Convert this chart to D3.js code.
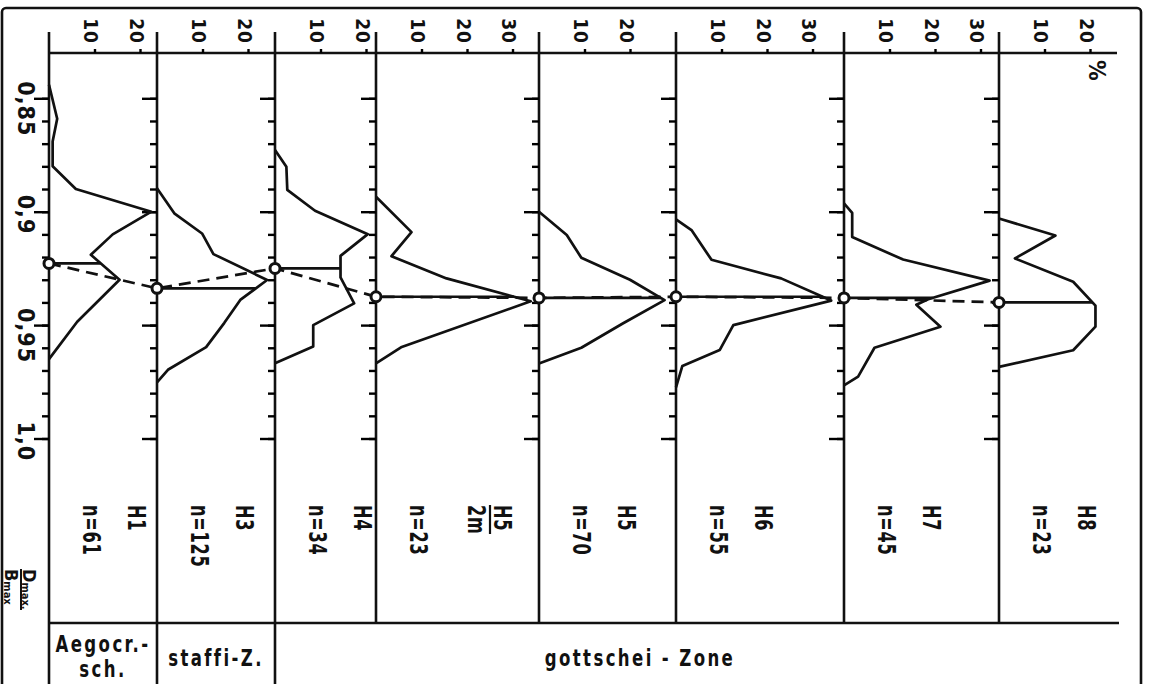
<!DOCTYPE html>
<html lang="de">
<head>
<meta charset="UTF-8">
<title>Dmax/Bmax</title>
<style>
  body { margin: 0; background: #fff; }
  svg { display: block; }
  text { font-family: "DejaVu Sans Condensed", "DejaVu Sans", sans-serif; font-weight: bold; fill: #111; }
  .pct text { font-size: 19px; letter-spacing: 1px; }
  .ratio { font-size: 23px; letter-spacing: 1px; }
  .plabel { font-size: 25px; letter-spacing: 1px; }
  .zone { font-size: 23px; letter-spacing: 3px; }
</style>
</head>
<body>
<div id="chart"></div>
<script src="https://cdnjs.cloudflare.com/ajax/libs/d3/7.8.5/d3.min.js"></script>
<script>

// horizons, sample sizes and mean Dmax/Bmax (circles)
var horizons = ["H1", "H3", "H4", "H5/2m", "H5", "H6", "H7", "H8"];
var counts = [61, 125, 34, 23, 70, 55, 45, 23];
var means = [0.9228, 0.9338, 0.9250, 0.9375, 0.9380, 0.9375, 0.9380, 0.9400];

// frequency polygons: [Dmax/Bmax, %]
var h1 = [[0.844, 0], [0.859, 1.8], [0.869, 0.8], [0.880, 0.8], [0.890, 5.9], [0.900, 22.5], [0.910, 14], [0.919, 9.2], [0.930, 15.5], [0.9485, 6.2], [0.965, 0]];
var h3 = [[0.8897, 0], [0.9007, 3.8], [0.9096, 9.9], [0.9187, 12.4], [0.9301, 24.2], [0.9389, 18.3], [0.949, 14.8], [0.9597, 10.8], [0.9697, 2.4], [0.9753, 0]];
var h4 = [[0.8728, 0], [0.8802, 2.5], [0.8904, 2.7], [0.8996, 8.8], [0.9099, 20.4], [0.9195, 14.4], [0.9290, 14.4], [0.9404, 17.4], [0.9500, 8.4], [0.9594, 8.4], [0.9668, 0]];
var h5m2 = [[0.8934, 0], [0.9090, 7.8], [0.9196, 3.4], [0.9294, 15.5], [0.9395, 34.0], [0.9598, 5.5], [0.9669, 0]];
var h5 = [[0.9000, 0], [0.9103, 6.1], [0.9203, 9.3], [0.9300, 20], [0.9390, 27.6], [0.9492, 18.5], [0.9600, 9.3], [0.9669, 0]];
var h6 = [[0.9034, 0], [0.9081, 3.4], [0.9212, 7.8], [0.9294, 23.1], [0.9392, 34.1], [0.9500, 12.6], [0.9610, 9.6], [0.9680, 1.4], [0.9775, 0]];
var h7 = [[0.8963, 0], [0.9005, 1.8], [0.9112, 1.8], [0.9211, 13], [0.9304, 32], [0.9386, 18.5], [0.9410, 15.9], [0.9507, 21.2], [0.9600, 6.7], [0.9727, 3.1], [0.9766, 0]];
var h8 = [[0.9030, 0], [0.9105, 12.4], [0.9206, 3.5], [0.9309, 16.3], [0.9414, 21.2], [0.9507, 21.2], [0.9611, 16.3], [0.9684, 0]];
var series = [h1, h3, h4, h5m2, h5, h6, h7, h8];

// axis ticks and labels
var ratioTicks = [0.85, 0.86, 0.87, 0.88, 0.89, 0.90, 0.91, 0.92, 0.93, 0.94, 0.95, 0.96, 0.97, 0.98, 0.99, 1.00];
var ratioLabelValues = [0.85, 0.90, 0.95, 1.00];
var ratioLabels = ["0,85", "0,9", "0,95", "1,0"];
var pctTicks = [10, 20, 30];

// zones (index of first and last horizon)
var zoneNames = [["Aegocr.-", "sch."], ["staffi-Z."], ["gottschei - Zone"]];
var zoneFirst = [0, 1, 2];
var zoneLast = [0, 1, 7];

// layout
var W = 1149, H = 684;
var axisY = 53, topY = 32, plotBottom = 623;
var x0 = 49, pxPerPct = 4.55;
var panelPx = [108, 118, 101, 163, 137, 168, 155, 118];
var lefts = [];
panelPx.reduce(function (acc, w) { lefts.push(acc); return acc + w; }, x0);
var rightEnd = lefts[7] + panelPx[7];
var narrow = 0.72;   // squeeze for the stencil-like lettering

var y = d3.scaleLinear().domain([0.85, 1.0]).range([98.3, 438.5]);
var xs = panelPx.map(function (w, i) {
    return d3.scaleLinear().domain([0, w / pxPerPct]).range([lefts[i], lefts[i] + w]);
});

var svg = d3.select('#chart').append('svg')
    .attr('width', W)
    .attr('height', H);

var lineW = 2.6;

// outer frame
svg.append('rect')
    .attr('x', 2).attr('y', 8)
    .attr('width', 1139).attr('height', 700)
    .attr('rx', 4)
    .attr('fill', 'none').attr('stroke', '#111').attr('stroke-width', 2.6);

// top % axis line and bottom line above the zone row
svg.append('line')
    .attr('x1', x0).attr('x2', rightEnd)
    .attr('y1', axisY).attr('y2', axisY)
    .attr('stroke', '#111').attr('stroke-width', lineW);
svg.append('line')
    .attr('x1', x0).attr('x2', rightEnd + 2)
    .attr('y1', plotBottom).attr('y2', plotBottom)
    .attr('stroke', '#111').attr('stroke-width', lineW);

// panel axes (vertical lines); zone borders run down to the frame
lefts.forEach(function (lx, i) {
    svg.append('line')
        .attr('x1', lx).attr('x2', lx)
        .attr('y1', topY)
        .attr('y2', zoneFirst.indexOf(i) >= 0 ? H : plotBottom)
        .attr('stroke', '#111').attr('stroke-width', lineW);
});

// Dmax/Bmax ticks on every panel axis
lefts.forEach(function (lx) {
    var minor = svg.append('g').attr('transform', 'translate(' + lx + ',0)');
    minor.call(d3.axisLeft(y).tickValues(ratioTicks).tickSize(7).tickFormat(''));
    var major = svg.append('g').attr('transform', 'translate(' + lx + ',0)');
    major.call(d3.axisLeft(y).tickValues(ratioLabelValues).tickSize(15).tickFormat(''));
    [minor, major].forEach(function (g) {
        g.selectAll('.domain').remove();
        g.selectAll('line').attr('stroke-width', 2.4);
    });
});

// Dmax/Bmax labels
svg.selectAll('.ratio')
    .data(ratioLabelValues)
    .enter().append('text')
    .attr('class', 'ratio')
    .attr('transform', function (d) { return 'translate(18,' + (y(d) - 17) + ') rotate(90)'; })
    .text(function (d, i) { return ratioLabels[i]; });

// % ticks along the top for every panel
xs.forEach(function (sc, i) {
    var maxPct = sc.domain()[1];
    var g = svg.append('g').attr('class', 'pct').attr('transform', 'translate(0,' + axisY + ')');
    g.call(d3.axisTop(sc)
        .tickValues(pctTicks.filter(function (t) { return t < maxPct - 1; }))
        .tickSize(4)
        .tickFormat(d3.format('d')));
    g.selectAll('.domain').remove();
    g.selectAll('line').attr('stroke-width', 2.4);
    g.selectAll('text')
        .attr('transform', 'rotate(90)')
        .attr('x', -9).attr('y', 11).attr('dy', null)
        .attr('text-anchor', 'end');
});

svg.append('text')
    .attr('transform', 'translate(1089,60) rotate(90)')
    .style('font-size', '23px')
    .text('%');

// frequency polygons
var line = function (i) {
    return d3.line()
        .x(function (d) { return xs[i](d[1]); })
        .y(function (d) { return y(d[0]); });
};
series.forEach(function (s, i) {
    svg.append('path')
        .datum(s)
        .attr('d', line(i))
        .attr('fill', 'none').attr('stroke', '#111')
        .attr('stroke-width', 2.7).attr('stroke-linejoin', 'round');
});

// value of a polygon at a given ratio
function pctAt(s, v) {
    for (var k = 1; k < s.length; k++) {
        if (v <= s[k][0]) {
            var t = (v - s[k - 1][0]) / (s[k][0] - s[k - 1][0]);
            return s[k - 1][1] + t * (s[k][1] - s[k - 1][1]);
        }
    }
    return 0;
}

// solid line from the mean to the polygon
means.forEach(function (m, i) {
    svg.append('line')
        .attr('x1', xs[i](0)).attr('x2', xs[i](pctAt(series[i], m)))
        .attr('y1', y(m)).attr('y2', y(m))
        .attr('stroke', '#111').attr('stroke-width', 2.7);
});

// dashed line joining the means
svg.append('path')
    .datum(means)
    .attr('d', d3.line()
        .x(function (d, i) { return xs[i](0); })
        .y(function (d) { return y(d); }))
    .attr('fill', 'none').attr('stroke', '#111')
    .attr('stroke-width', 2.7).attr('stroke-dasharray', '12,7');

svg.selectAll('.mean')
    .data(means)
    .enter().append('circle')
    .attr('class', 'mean')
    .attr('cx', function (d, i) { return xs[i](0); })
    .attr('cy', function (d) { return y(d); })
    .attr('r', 5)
    .attr('fill', '#fff').attr('stroke', '#111').attr('stroke-width', 3);

// horizon and n labels
var labelTop = 505;
function vtext(x, t) {
    return svg.append('text')
        .attr('class', 'plabel')
        .attr('transform', 'translate(' + x + ',' + labelTop + ') rotate(90) scale(' + narrow + ',1)')
        .text(t);
}
horizons.forEach(function (h, i) {
    var lx = lefts[i];
    vtext(lx + 34, 'n=' + counts[i]);
    var parts = h.split('/');
    if (parts.length === 1) {
        vtext(lx + 79, h);
    } else {
        vtext(lx + 118, parts[0]);
        svg.append('line')
            .attr('x1', lx + 114).attr('x2', lx + 114)
            .attr('y1', labelTop).attr('y2', labelTop + 29)
            .attr('stroke', '#111').attr('stroke-width', 2.2);
        vtext(lx + 92, parts[1]);
    }
});

// zone row
zoneNames.forEach(function (lines, z) {
    var a = lefts[zoneFirst[z]];
    var b = lefts[zoneLast[z]] + panelPx[zoneLast[z]];
    var cx = (a + b) / 2 + (lines[0].length > 12 ? -56 : 0);
    var baseY = lines.length > 1 ? 652 : 666;
    lines.forEach(function (t, k) {
        svg.append('text')
            .attr('class', 'zone')
            .attr('transform', 'translate(' + cx + ',' + (baseY + k * 25) + ') scale(0.8,1)')
            .attr('text-anchor', 'middle')
            .text(t);
    });
});

// axis title Dmax / Bmax
var num = svg.append('text')
    .attr('transform', 'translate(23,569) rotate(90)')
    .style('font-size', '18px');
num.append('tspan').text('D');
num.append('tspan').attr('dy', 1).style('font-size', '11px').text('max.');
svg.append('line')
    .attr('x1', 21).attr('x2', 21)
    .attr('y1', 569).attr('y2', 610)
    .attr('stroke', '#111').attr('stroke-width', 2);
var den = svg.append('text')
    .attr('transform', 'translate(5,569) rotate(90)')
    .style('font-size', '18px');
den.append('tspan').text('B');
den.append('tspan').attr('dy', 1).style('font-size', '11px').text('max');
</script>
</body>
</html>
